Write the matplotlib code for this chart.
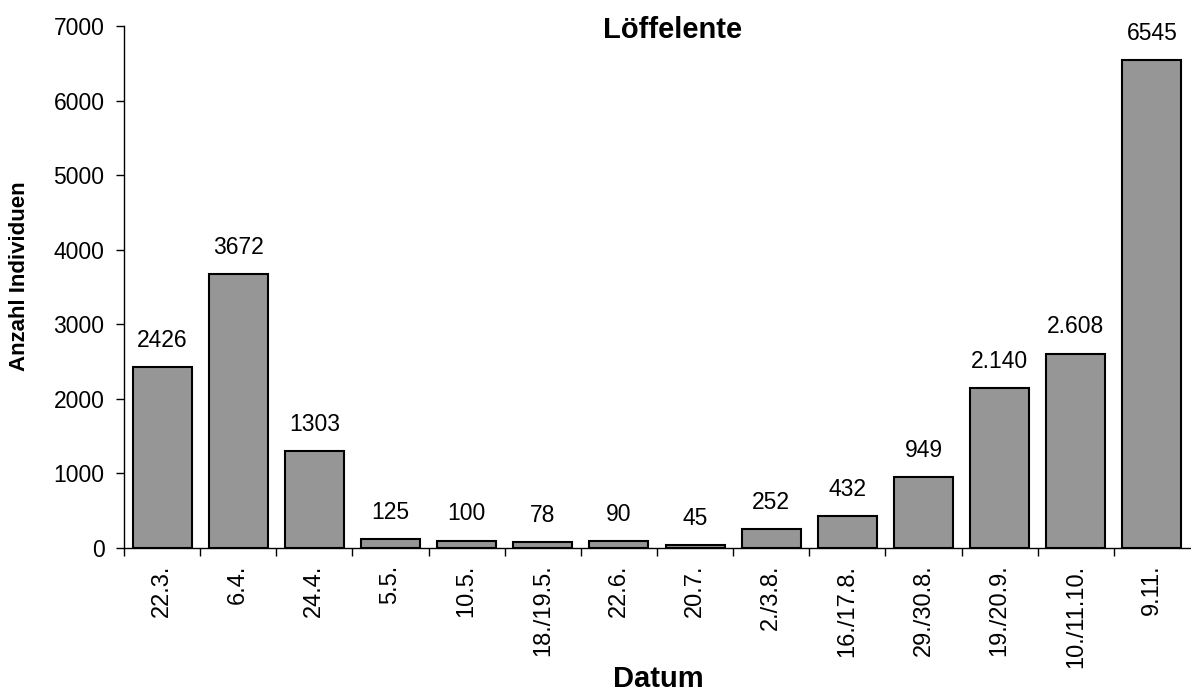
import numpy as np
import matplotlib
matplotlib.use("Agg")
import matplotlib.pyplot as plt

plt.rcParams['font.family'] = ['Liberation Sans', 'DejaVu Sans']

dates = ["22.3.", "6.4.", "24.4.", "5.5.", "10.5.", "18./19.5.", "22.6.", "20.7.",
         "2./3.8.", "16./17.8.", "29./30.8.", "19./20.9.", "10./11.10.", "9.11."]
counts = [2426, 3672, 1303, 125, 100, 78, 90, 45, 252, 432, 949, 2140, 2608, 6545]
count_labels = ["2426", "3672", "1303", "125", "100", "78", "90", "45", "252",
                "432", "949", "2.140", "2.608", "6545"]

fig = plt.figure(figsize=(11.91, 6.91), dpi=100)
ax = fig.add_axes([124 / 1191, 1 - 548 / 691, 1066 / 1191, 522 / 691])

x = np.arange(len(dates))
bars = ax.bar(x, counts, width=0.775, color="#969696", edgecolor="black", linewidth=1.5)

for b, lab in zip(bars, count_labels):
    ax.annotate(lab, (b.get_x() + b.get_width() / 2, b.get_height()),
                xytext=(0, 14.5), textcoords="offset points",
                ha="center", va="baseline", fontsize=16.5)

ax.set_xlim(-0.5, len(dates) - 0.5)
ax.set_ylim(0, 7000)
ax.set_yticks(range(0, 7001, 1000))
ax.tick_params(axis="y", labelsize=16.5, length=6, width=1, pad=8)

# ticks between categories, labels centred under bars
ax.set_xticks(np.arange(len(dates)) - 0.5)
ax.set_xticklabels([])
ax.set_xticks(x, minor=True)
ax.set_xticklabels(dates, minor=True, rotation=90, fontsize=17, va="top")
ax.tick_params(axis="x", which="major", length=6, width=1, direction="out")
ax.tick_params(axis="x", which="minor", length=0, pad=12)

for s in ["top", "right"]:
    ax.spines[s].set_visible(False)
for s in ["left", "bottom"]:
    ax.spines[s].set_linewidth(1.0)

fig.text(673 / 1191, 1 - 38 / 691, "Löffelente", ha="center", va="baseline",
         fontsize=21, fontweight="bold")
fig.text(20 / 1191, 1 - 276 / 691, "Anzahl Individuen", rotation=90,
         ha="center", va="center", fontsize=16, fontweight="bold")
fig.text(658 / 1191, 1 - 687 / 691, "Datum", ha="center", va="baseline",
         fontsize=21, fontweight="bold")

fig.savefig("out.png", dpi=100)
